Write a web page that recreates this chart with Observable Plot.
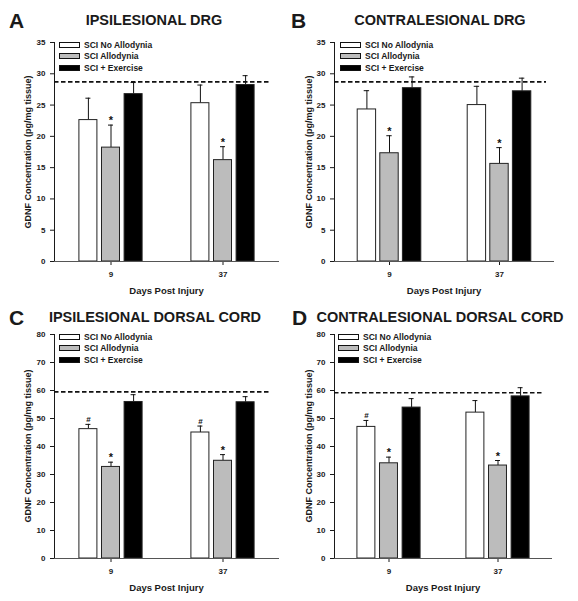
<!DOCTYPE html>
<html>
<head>
<meta charset="utf-8">
<script src="https://cdn.jsdelivr.net/npm/d3@7"></script>
<script src="https://cdn.jsdelivr.net/npm/@observablehq/plot@0.6"></script>
<style>
  html, body { margin: 0; padding: 0; background: #fff; }
  #root { position: relative; width: 578px; height: 601px; font-family: "Liberation Sans", Arial, sans-serif; color: #1a1a1a; overflow: hidden; }
  .abs { position: absolute; }
  .letter { font-weight: bold; font-size: 21px; line-height: 1; }
  .title { font-weight: bold; font-size: 14.5px; line-height: 1; white-space: nowrap; transform: translateX(-50%); }
  .ylab { font-weight: bold; font-size: 9px; white-space: nowrap; transform: translate(-50%, -50%) rotate(-90deg); }
  .xlab { font-weight: bold; font-size: 9.5px; white-space: nowrap; transform: translate(-50%, -50%); }
  .leg { font-weight: bold; font-size: 8.5px; white-space: nowrap; display: flex; align-items: center; height: 11px; }
  .sw { width: 19px; height: 4px; border: 1px solid #111; margin-right: 4px; box-sizing: content-box; }
</style>
</head>
<body>
<div id="root"></div>
<script>
// ---------------- data ----------------
const days = ["9", "37"];
const groups = ["SCI No Allodynia", "SCI Allodynia", "SCI + Exercise"];
const groupFills = ["#ffffff", "#bcbcbc", "#000000"];

const panelLetters = ["A", "B", "C", "D"];
const panelTitles = ["IPSILESIONAL DRG", "CONTRALESIONAL DRG", "IPSILESIONAL DORSAL CORD", "CONTRALESIONAL DORSAL CORD"];
const yLabel = "GDNF Concentration (pg/mg tissue)";
const xLabel = "Days Post Injury";

const drgTicks = [0, 5, 10, 15, 20, 25, 30, 35];
const cordTicks = [0, 10, 20, 30, 40, 50, 60, 70, 80];

// Panel A: Ipsilesional DRG
const aNoAllo = [22.6, 25.3], aNoAlloErr = [3.5, 2.9];
const aAllo = [18.2, 16.2], aAlloErr = [3.6, 2.15];
const aEx = [26.75, 28.2], aExErr = [1.85, 1.5];
const aBaseline = 28.7;
const aNoAlloMark = ["", ""], aAlloMark = ["*", "*"];

// Panel B: Contralesional DRG
const bNoAllo = [24.3, 25.0], bNoAlloErr = [3.0, 3.0];
const bAllo = [17.3, 15.6], bAlloErr = [2.8, 2.6];
const bEx = [27.7, 27.2], bExErr = [1.8, 2.1];
const bBaseline = 28.7;
const bNoAlloMark = ["", ""], bAlloMark = ["*", "*"];

// Panel C: Ipsilesional dorsal cord
const cNoAllo = [46.2, 45.0], cNoAlloErr = [1.7, 2.3];
const cAllo = [32.7, 34.9], cAlloErr = [1.7, 2.2];
const cEx = [55.9, 55.8], cExErr = [2.6, 2.0];
const cBaseline = 59.5;
const cNoAlloMark = ["#", "#"], cAlloMark = ["*", "*"];

// Panel D: Contralesional dorsal cord
const dNoAllo = [47.0, 52.1], dNoAlloErr = [2.3, 4.3];
const dAllo = [34.0, 33.2], dAlloErr = [2.2, 1.8];
const dEx = [53.9, 57.9], dExErr = [3.2, 3.1];
const dBaseline = 59.2;
const dNoAlloMark = ["#", ""], dAlloMark = ["*", "*"];

// ---------------- layout ----------------
const root = document.getElementById("root");
const FONT = "Liberation Sans, Arial, sans-serif";

function add(cls, text, css) {
  const el = document.createElement("div");
  el.className = "abs " + cls;
  if (text != null) el.textContent = text;
  Object.assign(el.style, css);
  root.appendChild(el);
  return el;
}

function panel(cfg) {
  const {left, top, w, h, mL, mR, mT, mB, yMax, ticks, series, errs, marks, baseline, idx, legendLeft, titleCX, titleY, letterX, ylabX} = cfg;
  const padInner = 0.44, padOuter = padInner / 2;
  const plotW = w - mL - mR;
  const bw = (1 - padInner) * plotW / 2;      // band width of one day group
  const barW = 18, gap = 4.6, capW = 5;
  const rows = days.map((d, i) => ({day: d, i}));

  const marksArr = [];
  series.forEach((vals, g) => {
    const dx = (g - 1) * (barW + gap);
    const data = rows.map(r => ({day: r.day, v: vals[r.i], e: errs[g][r.i], m: marks[g] ? marks[g][r.i] : ""}));
    marksArr.push(Plot.ruleX(data, {x: "day", y1: "v", y2: d => d.v + d.e, dx, stroke: "#111", strokeWidth: 1}));
    marksArr.push(Plot.tickY(data, {x: "day", y: d => d.v + d.e, dx, insetLeft: (bw - capW) / 2, insetRight: (bw - capW) / 2, stroke: "#111", strokeWidth: 1}));
    marksArr.push(Plot.barY(data, {x: "day", y: "v", dx, insetLeft: (bw - barW) / 2, insetRight: (bw - barW) / 2, fill: groupFills[g], stroke: "#222", strokeWidth: 1}));
    const stars = data.filter(d => d.m === "*");
    const hashes = data.filter(d => d.m === "#");
    if (stars.length) marksArr.push(Plot.text(stars, {x: "day", y: d => d.v + d.e, dx, dy: -1, text: "m", lineAnchor: "bottom", fontSize: 11, fontWeight: "bold", fill: "#111"}));
    if (hashes.length) marksArr.push(Plot.text(hashes, {x: "day", y: d => d.v + d.e, dx, dy: -2, text: "m", lineAnchor: "bottom", fontSize: 8, fontWeight: "bold", fill: "#111"}));
  });
  marksArr.push(Plot.ruleY([baseline], {stroke: "#111", strokeWidth: 1.6, strokeDasharray: "4.5,2.5", insetRight: 8}));
  marksArr.push(Plot.ruleY([0], {stroke: "#555", strokeWidth: 1}));

  const svg = Plot.plot({
    width: w, height: h,
    marginLeft: mL, marginRight: mR, marginTop: mT, marginBottom: mB,
    style: {fontFamily: FONT, fontSize: "8px", fontWeight: "bold", color: "#1a1a1a", background: "transparent", overflow: "visible"},
    x: {domain: days, paddingInner: padInner, paddingOuter: padOuter, tickSize: 4, tickPadding: 6, label: null},
    y: {domain: [0, yMax], ticks, tickSize: 4, tickPadding: 5, label: null, line: true},
    marks: marksArr
  });
  svg.style.position = "absolute";
  svg.style.left = left + "px";
  svg.style.top = top + "px";
  root.appendChild(svg);

  // letter & title
  add("letter", panelLetters[idx], {left: (left + letterX) + "px", top: (top + titleY - 10) + "px"});
  add("title", panelTitles[idx], {left: (left + titleCX) + "px", top: (top + titleY - 7) + "px"});
  // axis labels
  add("ylab", yLabel, {left: (left + ylabX) + "px", top: (top + mT + (h - mT - mB) / 2) + "px"});
  add("xlab", xLabel, {left: (left + mL + plotW / 2) + "px", top: (top + h - mB + 29) + "px"});
  // legend
  groups.forEach((gname, g) => {
    const row = add("leg", null, {left: (left + legendLeft) + "px", top: (top + mT - 3 + g * 11.5) + "px"});
    const sw = document.createElement("span");
    sw.className = "sw";
    sw.style.background = groupFills[g];
    row.appendChild(sw);
    const t = document.createElement("span");
    t.textContent = gname;
    row.appendChild(t);
  });
}

panel({left: 0, top: 0, w: 289, h: 300, mL: 54, mR: 10, mT: 42, mB: 39, yMax: 35, ticks: drgTicks,
  series: [aNoAllo, aAllo, aEx], errs: [aNoAlloErr, aAlloErr, aExErr], marks: [aNoAlloMark, aAlloMark, null],
  baseline: aBaseline, idx: 0, legendLeft: 59, titleCX: 154, titleY: 20, letterX: 9, ylabX: 28});
panel({left: 288, top: 0, w: 289, h: 300, mL: 46, mR: 23, mT: 42, mB: 39, yMax: 35, ticks: drgTicks,
  series: [bNoAllo, bAllo, bEx], errs: [bNoAlloErr, bAlloErr, bExErr], marks: [bNoAlloMark, bAlloMark, null],
  baseline: bBaseline, idx: 1, legendLeft: 52, titleCX: 152, titleY: 20, letterX: 3, ylabX: 21});
panel({left: 0, top: 300, w: 289, h: 301, mL: 54, mR: 10, mT: 34, mB: 43, yMax: 80, ticks: cordTicks,
  series: [cNoAllo, cAllo, cEx], errs: [cNoAlloErr, cAlloErr, cExErr], marks: [cNoAlloMark, cAlloMark, null],
  baseline: cBaseline, idx: 2, legendLeft: 59, titleCX: 155, titleY: 17, letterX: 9, ylabX: 28});
panel({left: 288, top: 300, w: 289, h: 301, mL: 46, mR: 25, mT: 34, mB: 43, yMax: 80, ticks: cordTicks,
  series: [dNoAllo, dAllo, dEx], errs: [dNoAlloErr, dAlloErr, dExErr], marks: [dNoAlloMark, dAlloMark, null],
  baseline: dBaseline, idx: 3, legendLeft: 50, titleCX: 152, titleY: 17, letterX: 4, ylabX: 21});
</script>
</body>
</html>
